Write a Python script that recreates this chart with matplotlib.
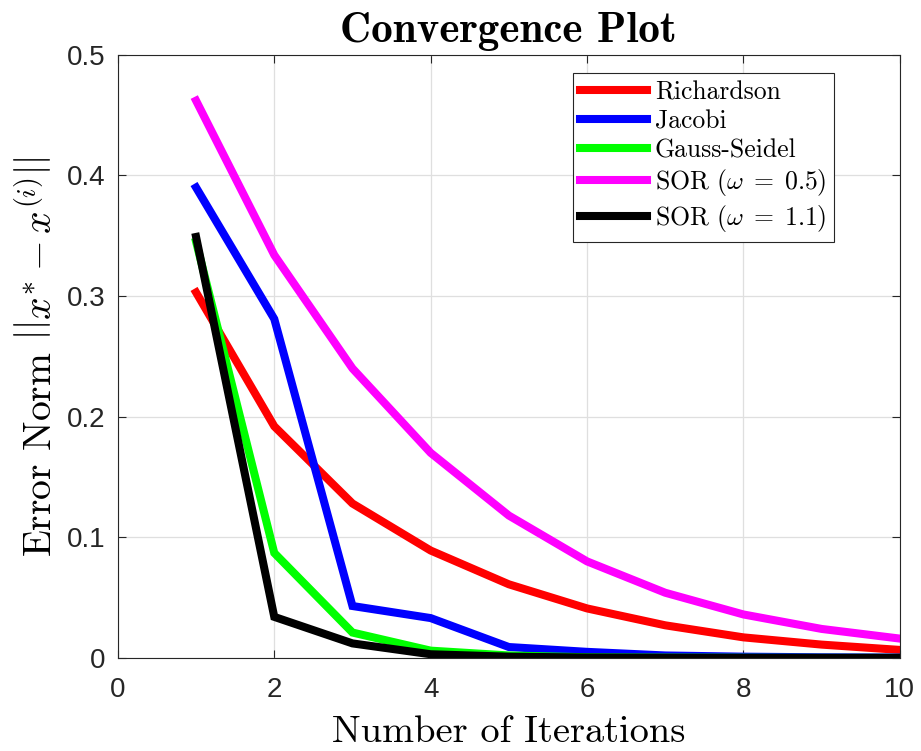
import matplotlib
matplotlib.use("Agg")
import matplotlib.pyplot as plt
import numpy as np

# iterations and error norms
iterations = [1, 2, 3, 4, 5, 6, 7, 8, 9, 10]
richardson = [0.303, 0.192, 0.128, 0.089, 0.061, 0.041, 0.027, 0.017, 0.011, 0.0066]
jacobi = [0.390, 0.281, 0.043, 0.033, 0.009, 0.005, 0.002, 0.001, 0.0005, 0.0003]
gauss_seidel = [0.345, 0.087, 0.021, 0.006, 0.002, 0.0005, 0.0002, 0.0001, 0.0, 0.0]
sor_05 = [0.462, 0.334, 0.240, 0.170, 0.118, 0.080, 0.054, 0.036, 0.024, 0.016]
sor_11 = [0.349, 0.034, 0.012, 0.003, 0.001, 0.0003, 0.0001, 0.0, 0.0, 0.0]

labels = ["Richardson", "Jacobi", "Gauss-Seidel",
          r"SOR $(\omega\;=\;0.5)$", r"SOR $(\omega\;=\;1.1)$"]
colors = ["#ff0000", "#0000ff", "#00ff00", "#ff00ff", "#000000"]

plt.rcParams["mathtext.fontset"] = "cm"
plt.rcParams["font.family"] = ["Liberation Sans", "DejaVu Sans"]

fig = plt.figure(figsize=(9.21, 7.51), dpi=100)
ax = fig.add_axes([0.128, 0.124, 0.849, 0.803])

series = [richardson, jacobi, gauss_seidel, sor_05, sor_11]
for vals, lab, col in zip(series, labels, colors):
    ax.plot(iterations, vals, color=col, linewidth=5.8, label=lab,
            solid_joinstyle="miter")

ax.set_xlim(0, 10)
ax.set_ylim(0, 0.5)
ax.set_xticks([0, 2, 4, 6, 8, 10])
ax.set_yticks([0, 0.1, 0.2, 0.3, 0.4, 0.5])
ax.set_yticklabels(["0", "0.1", "0.2", "0.3", "0.4", "0.5"])
ax.grid(True, color="#dfdfdf", linewidth=0.9)
ax.set_axisbelow(True)

ax.tick_params(direction="in", length=6, width=0.8, colors="#262626",
               labelsize=20, top=True, right=True)
ax.tick_params(axis="x", pad=14)
ax.tick_params(axis="y", pad=9)
for s in ax.spines.values():
    s.set_color("#262626")
    s.set_linewidth(0.8)

ax.set_title("Convergence Plot", fontfamily="cmb10", fontsize=31, pad=9)
ax.set_xlabel("Number of Iterations", fontfamily="cmr10", fontsize=27.7, labelpad=9)
ax.set_ylabel(r"Error Norm $\left|\left|x^{*}-x^{(i)}\right|\right|$",
              fontfamily="cmr10", fontsize=28.5, labelpad=5)

leg = ax.legend(loc="upper right", bbox_to_anchor=(0.916, 0.970),
                borderaxespad=0, fancybox=False, framealpha=1,
                edgecolor="#262626", handlelength=2.6, handletextpad=0.3,
                labelspacing=0.2, borderpad=0.3,
                prop={"family": "cmr10", "size": 18.5})
leg.get_frame().set_linewidth(0.8)

plt.savefig("out.png", dpi=100)
